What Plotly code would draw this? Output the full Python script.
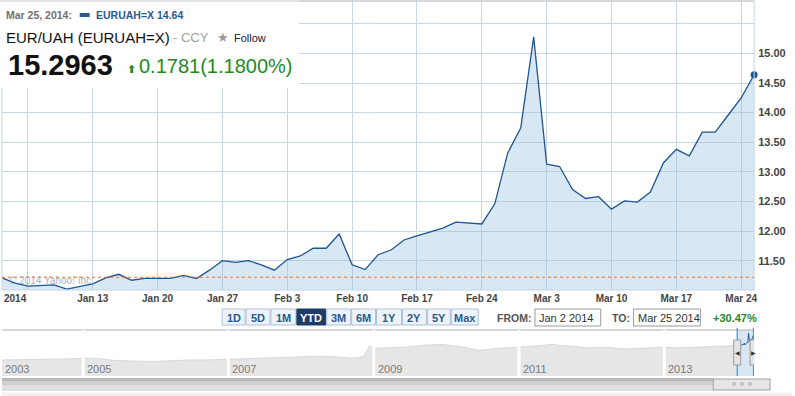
import pandas as pd
import plotly.graph_objects as go

W, H = 795, 396

# ---------------- data ----------------
dates = pd.bdate_range("2014-01-02", "2014-03-25").strftime("%Y-%m-%d").tolist()
values = [11.21, 11.12, 11.07, 11.08, 11.09, 11.02, 11.07, 11.11, 11.21, 11.27,
          11.17, 11.20, 11.20, 11.20, 11.25, 11.20, 11.34, 11.50, 11.47, 11.50,
          11.43, 11.34, 11.52, 11.58, 11.71, 11.71, 11.95, 11.43, 11.35, 11.60,
          11.68, 11.85, 11.92, 11.99, 12.05, 12.15, 12.13, 12.12, 12.46, 13.32,
          13.74, 15.28, 13.13, 13.09, 12.70, 12.55, 12.58, 12.37, 12.51, 12.49,
          12.66, 13.15, 13.38, 13.27, 13.67, 13.67, 13.96, 14.25, 14.64]
prev_close = 11.22

tick_dates = ["2014-01-06", "2014-01-13", "2014-01-20", "2014-01-27", "2014-02-03",
              "2014-02-10", "2014-02-17", "2014-02-24", "2014-03-03", "2014-03-10",
              "2014-03-17", "2014-03-24"]
tick_labels = ["", "Jan 13", "Jan 20", "Jan 27", "Feb 3", "Feb 10", "Feb 17",
               "Feb 24", "Mar 3", "Mar 10", "Mar 17", "Mar 24"]
y_ticks = [11.5, 12.0, 12.5, 13.0, 13.5, 14.0, 14.5, 15.0, 15.5]
y_tick_labels = ["11.50", "12.00", "12.50", "13.00", "13.50", "14.00", "14.50", "15.00", ""]

nav_dates = ["2003-11-20", "2004-02-15", "2004-05-15", "2004-08-15", "2004-11-15",
             "2005-01-10", "2005-03-15", "2005-06-15", "2005-09-15", "2005-12-15",
             "2006-03-15", "2006-06-15", "2006-09-15", "2006-12-15", "2007-03-15",
             "2007-06-15", "2007-09-15", "2007-12-15", "2008-03-15", "2008-06-15",
             "2008-09-15", "2008-11-10", "2008-12-10", "2009-01-15", "2009-03-15",
             "2009-06-15", "2009-09-15", "2009-12-15", "2010-03-15", "2010-06-15",
             "2010-09-15", "2010-12-15", "2011-03-15", "2011-06-15", "2011-09-15",
             "2011-12-15", "2012-03-15", "2012-06-15", "2012-09-15", "2012-12-15",
             "2013-03-15", "2013-06-15", "2013-09-15", "2013-12-15", "2014-01-01"]
nav_values = [6.4, 6.5, 6.4, 6.5, 6.8, 7.0, 6.9, 6.2, 6.1, 5.9,
              6.1, 6.4, 6.4, 6.6, 6.7, 6.8, 7.0, 7.4, 7.6, 7.5,
              7.0, 7.5, 11.0, 10.3, 10.5, 10.7, 11.3, 11.5, 10.8, 9.6,
              10.2, 10.5, 11.0, 11.5, 11.0, 10.4, 10.6, 10.0, 10.3, 10.6,
              10.4, 10.6, 10.8, 11.2, 11.2]
nav_years = ["2003", "2005", "2007", "2009", "2011", "2013"]
nav_year_starts = ["2003-11-20", "2005-01-01", "2007-01-01", "2009-01-01", "2011-01-01", "2013-01-01"]

buttons = ["1D", "5D", "1M", "YTD", "3M", "6M", "1Y", "2Y", "5Y", "Max"]
button_edges = [223, 247, 272, 298, 328, 353, 378, 404, 429, 453, 481]
selected_button = "YTD"

# ---------------- helpers ----------------
def X(px):
    return px / W

def Y(py):
    return 1 - py / H

LINE = "#1f5590"
GRID = "#c6d6e3"
BOLD = "Liberation Sans"

fig = go.Figure()

fig.add_trace(go.Scatter(
    x=dates, y=values, mode="lines", line=dict(color=LINE, width=1.3),
    fill="tozeroy", fillcolor="rgba(150,195,225,0.38)", hoverinfo="skip",
    xaxis="x", yaxis="y"))
fig.add_trace(go.Scatter(
    x=[dates[-1]], y=[values[-1]], mode="markers",
    marker=dict(color=LINE, size=7), cliponaxis=False, hoverinfo="skip",
    xaxis="x", yaxis="y"))

# navigator
fig.add_trace(go.Scatter(
    x=nav_dates, y=nav_values, mode="lines", line=dict(color="#d2d2d2", width=0.8),
    fill="tozeroy", fillcolor="#e6e6e6", hoverinfo="skip", xaxis="x2", yaxis="y2"))
fig.add_trace(go.Scatter(
    x=dates, y=values, mode="lines", line=dict(color=LINE, width=1),
    hoverinfo="skip", xaxis="x2", yaxis="y2"))

shapes = []
annotations = []

# reference (previous close) dotted line
shapes.append(dict(type="line", xref="x domain", yref="y", x0=0, x1=1,
                   y0=prev_close, y1=prev_close,
                   line=dict(color="#f07035", width=1.2, dash="dot"), layer="above"))
# plot frame
shapes.append(dict(type="rect", xref="x domain", yref="y domain", x0=0, x1=1, y0=0, y1=1,
                   line=dict(color=GRID, width=1), layer="above"))

# header white box covering plot
shapes.append(dict(type="rect", xref="paper", yref="paper", x0=0, x1=X(300),
                   y0=Y(88), y1=1, fillcolor="white", line=dict(width=0), layer="above"))
shapes.append(dict(type="line", xref="paper", yref="paper", x0=X(0), x1=X(757),
                   y0=Y(1), y1=Y(1), line=dict(color="#c8c8c8", width=1), layer="above"))

# header texts
annotations += [
    dict(x=X(4), y=Y(15), text="<b>Mar 25, 2014:</b>", xanchor="left",
         font=dict(family=BOLD, size=10.5, color="#707070")),
    dict(x=X(94), y=Y(15), text="<b>EURUAH=X 14.64</b>", xanchor="left",
         font=dict(family=BOLD, size=10.5, color="#2a5a90")),
    dict(x=X(4), y=Y(38), text="EUR/UAH (EURUAH=X)", xanchor="left",
         font=dict(family="Liberation Sans", size=15, color="#111111")),
    dict(x=X(172), y=Y(38), text="- CCY", xanchor="left",
         font=dict(family="Liberation Sans", size=13, color="#a0a0a0")),
    dict(x=X(216), y=Y(37), text="★", xanchor="left",
         font=dict(family="DejaVu Sans", size=13, color="#9a9a9a")),
    dict(x=X(233), y=Y(38), text="Follow", xanchor="left",
         font=dict(family="Liberation Sans", size=11, color="#222222")),
    dict(x=X(6), y=Y(65), text="<b>15.2963</b>", xanchor="left",
         font=dict(family=BOLD, size=29, color="#111111")),
    dict(x=X(125), y=Y(69), text="<b>⬆</b>", xanchor="left",
         font=dict(family="DejaVu Sans", size=11, color="#1f8a1f")),
    dict(x=X(138), y=Y(66), text="0.1781(1.1800%)", xanchor="left",
         font=dict(family="Liberation Sans", size=20, color="#1f8a1f")),
]
shapes.append(dict(type="rect", xref="paper", yref="paper", x0=X(80), x1=X(90),
                   y0=Y(17), y1=Y(13), fillcolor="#2a5a90", line=dict(width=0), layer="above"))

# x label for year
annotations.append(dict(x=X(16), y=Y(298), text="<b>2014</b>", xanchor="center",
                        font=dict(family=BOLD, size=10, color="#444444")))
# watermark
annotations.append(dict(x=X(7), y=Y(280), text="© 2014 Yahoo! Inc.", xanchor="left",
                        font=dict(family="Liberation Sans", size=10, color="rgba(140,160,185,0.8)")))

# buttons
for i, b in enumerate(buttons):
    x0, x1 = button_edges[i], button_edges[i + 1] - 1
    sel = b == selected_button
    shapes.append(dict(type="rect", xref="paper", yref="paper", x0=X(x0), x1=X(x1),
                       y0=Y(325), y1=Y(309),
                       fillcolor="#1d3d68" if sel else "#edf3f9",
                       line=dict(color="#1d3d68" if sel else "#a9c1d9", width=1)))
    annotations.append(dict(x=X((x0 + x1) / 2), y=Y(317.5), text="<b>%s</b>" % b,
                            xanchor="center",
                            font=dict(family=BOLD, size=11,
                                      color="white" if sel else "#2a5a90")))

# FROM / TO
annotations += [
    dict(x=X(497), y=Y(318), text="<b>FROM:</b>", xanchor="left",
         font=dict(family=BOLD, size=10.5, color="#555555")),
    dict(x=X(612), y=Y(318), text="<b>TO:</b>", xanchor="left",
         font=dict(family=BOLD, size=10.5, color="#555555")),
    dict(x=X(539), y=Y(318), text="Jan 2 2014", xanchor="left",
         font=dict(family="Liberation Sans", size=11, color="#333333")),
    dict(x=X(638), y=Y(318), text="Mar 25 2014", xanchor="left",
         font=dict(family="Liberation Sans", size=11, color="#333333")),
    dict(x=X(714), y=Y(318), text="<b>+30.47%</b>", xanchor="left",
         font=dict(family=BOLD, size=11, color="#1f8a1f")),
]
for x0, x1 in [(537, 603), (636, 703)]:
    shapes.append(dict(type="rect", xref="paper", yref="paper", x0=X(x0), x1=X(x1),
                       y0=Y(326), y1=Y(309), fillcolor="white",
                       line=dict(color="#9a9a9a", width=1)))

# navigator decorations
shapes.append(dict(type="line", xref="paper", yref="paper", x0=X(2), x1=X(757),
                   y0=Y(330), y1=Y(330), line=dict(color="#c8c8c8", width=1.5)))
for d in nav_year_starts[1:]:
    shapes.append(dict(type="line", xref="x2", yref="y2 domain", x0=d, x1=d, y0=0, y1=1,
                       line=dict(color="white", width=3), layer="above"))
for i, (lab, d) in enumerate(zip(nav_years, nav_year_starts)):
    annotations.append(dict(x=d, xref="x2", yref="paper", y=Y(368.5), text=lab,
                            xanchor="left", xshift=2 if i else 1,
                            font=dict(family="Liberation Sans", size=11, color="#7a7a7a")))
# selection
shapes.append(dict(type="rect", xref="x2", yref="y2 domain", x0=dates[0], x1=dates[-1],
                   y0=0, y1=1, fillcolor="rgba(190,215,235,0.6)", line=dict(width=0),
                   layer="below"))
for d in [dates[0], dates[-1]]:
    shapes.append(dict(type="line", xref="x2", yref="y2 domain", x0=d, x1=d, y0=0, y1=1.05,
                       line=dict(color="#3a9ee0", width=1.3), layer="above"))
    shapes.append(dict(type="rect", xref="x2", yref="paper", xsizemode="pixel", xanchor=d,
                       x0=-3.5, x1=3.5, y0=Y(365), y1=Y(340), fillcolor="#e4e4e4",
                       line=dict(color="#9a9a9a", width=1), layer="above"))
annotations.append(dict(x=dates[0], xref="x2", yref="paper", y=Y(352.5), text="◀",
                        xanchor="center", font=dict(family="DejaVu Sans", size=6, color="#333")))
annotations.append(dict(x=dates[-1], xref="x2", yref="paper", y=Y(352.5), text="▶",
                        xanchor="center", font=dict(family="DejaVu Sans", size=6, color="#333")))

# scrollbar
for y0, y1, c in [(378, 381, "#b8b8b8"), (381, 385, "#cfcfcf"), (385, 391, "#e0e0e0")]:
    shapes.append(dict(type="rect", xref="paper", yref="paper", x0=X(2), x1=X(716),
                       y0=Y(y1), y1=Y(y0), fillcolor=c, line=dict(width=0)))
shapes.append(dict(type="rect", xref="paper", yref="paper", x0=X(716), x1=X(773),
                   y0=Y(390), y1=Y(379), fillcolor="#e6e6e6",
                   line=dict(color="#a0a0a0", width=1)))
for cx in [737, 745, 753]:
    shapes.append(dict(type="circle", xref="paper", yref="paper", x0=X(cx - 2), x1=X(cx + 2),
                       y0=Y(386), y1=Y(382), fillcolor="#c0c0c0", line=dict(width=0)))
shapes.append(dict(type="rect", xref="paper", yref="paper", x0=X(2), x1=X(795),
                   y0=Y(396), y1=Y(392.5), fillcolor="#efefef", line=dict(width=0)))

for a in annotations:
    a.setdefault("xref", "paper")
    a.setdefault("yref", "paper")
    a.setdefault("yanchor", "middle")
    a["showarrow"] = False

fig.update_layout(
    width=W, height=H, autosize=False,
    margin=dict(l=0, r=0, t=0, b=0),
    paper_bgcolor="white", plot_bgcolor="white",
    showlegend=False, hovermode=False,
    shapes=shapes, annotations=annotations,
    xaxis=dict(domain=[X(2), X(757)], type="category", range=[0, len(dates) - 1],
               tickmode="array", tickvals=tick_dates, ticktext=tick_labels,
               showgrid=True, gridcolor=GRID, gridwidth=1, zeroline=False,
               showline=False, ticks="", ticklabelstandoff=1, fixedrange=True,
               tickfont=dict(family=BOLD, size=10, color="#444444", weight="bold")),
    yaxis=dict(domain=[Y(290), Y(1)], range=[11.005, 15.885], side="right",
               tickmode="array", tickvals=y_ticks, ticktext=y_tick_labels,
               showgrid=True, gridcolor=GRID, gridwidth=1, zeroline=False,
               showline=False, ticks="", ticklabelstandoff=3, fixedrange=True,
               tickfont=dict(family=BOLD, size=11, color="#444444", weight="bold")),
    xaxis2=dict(domain=[X(2), X(757)], type="date", range=["2003-11-20", "2014-03-28"],
                anchor="y2", visible=False, fixedrange=True),
    yaxis2=dict(domain=[Y(376), Y(330)], range=[1.1, 16.3], anchor="x2", visible=False,
                fixedrange=True),
)

fig.write_html("out.html", config={"displayModeBar": False},
               post_script="document.body.style.margin='0px';document.body.style.overflow='hidden';")
